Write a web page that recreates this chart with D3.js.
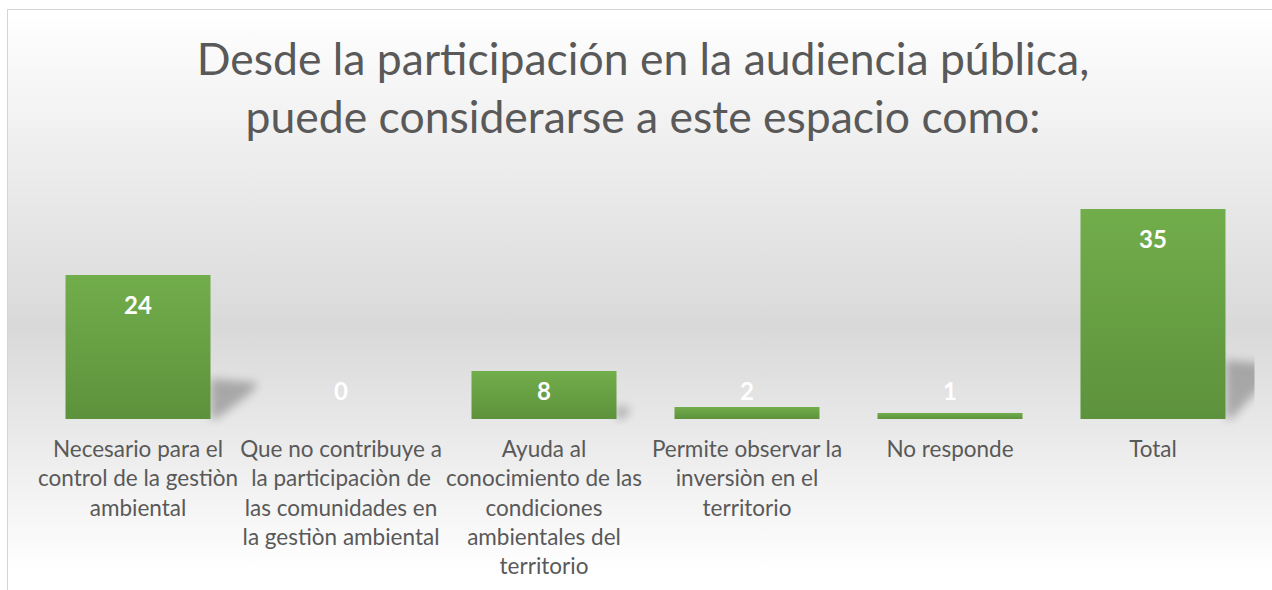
<!DOCTYPE html>
<html>
<head>
<meta charset="utf-8">
<script src="https://cdn.jsdelivr.net/npm/d3@7"></script>
<style>
  html, body { margin: 0; padding: 0; background: #ffffff; }
  svg { display: block; }
</style>
</head>
<body>
<svg id="chart" width="1272" height="590"></svg>
<script>
// data
var categories = ["Necesario", "Que no contribuye", "Ayuda al conocimiento", "Permite observar", "No responde", "Total"];
var values = [24, 0, 8, 2, 1, 35];
var categoryLines = [
    ["Necesario para el", "control de la gestiòn", "ambiental"],
    ["Que no contribuye a", "la participaciòn de", "las comunidades en", "la gestiòn ambiental"],
    ["Ayuda al", "conocimiento de las", "condiciones", "ambientales del", "territorio"],
    ["Permite observar la", "inversiòn en el", "territorio"],
    ["No responde"],
    ["Total"]
];
var titleLines = ["Desde la participación en la audiencia pública,", "puede considerarse a este espacio como:"];

var svg = d3.select("#chart");
var defs = svg.append("defs");

// chart background
var bg = defs.append("linearGradient")
    .attr("id", "bgGrad")
    .attr("gradientUnits", "userSpaceOnUse")
    .attr("x1", 0).attr("y1", 9).attr("x2", 0).attr("y2", 590);
bg.append("stop").attr("offset", "0%").attr("stop-color", "#ffffff");
bg.append("stop").attr("offset", "55%").attr("stop-color", "#d9d9d9");
bg.append("stop").attr("offset", "97%").attr("stop-color", "#ffffff");

var barGrad = defs.append("linearGradient")
    .attr("id", "barGrad")
    .attr("x1", 0).attr("y1", 0).attr("x2", 0).attr("y2", 1);
barGrad.append("stop").attr("offset", "0%").attr("stop-color", "#72ad4b");
barGrad.append("stop").attr("offset", "100%").attr("stop-color", "#5d923c");

defs.append("filter")
    .attr("id", "blur")
    .attr("x", "-50%").attr("y", "-50%").attr("width", "200%").attr("height", "200%")
  .append("feGaussianBlur")
    .attr("stdDeviation", 5);

svg.append("rect")
    .attr("x", 7.5).attr("y", 9.5)
    .attr("width", 1280).attr("height", 600)
    .attr("fill", "url(#bgGrad)")
    .attr("stroke", "#d4d4d4")
    .attr("stroke-width", 1);

// title
svg.append("text")
    .attr("x", 643)
    .attr("text-anchor", "middle")
    .style("font-family", "Lato, 'Open Sans', sans-serif")
    .style("font-size", "44.5px")
    .style("fill", "#595959")
  .selectAll("tspan")
  .data(titleLines)
  .enter()
  .append("tspan")
    .attr("x", 643)
    .attr("y", (d, i) => 75 + i * 58)
    .text(d => d);

// scales
var left = 36.5, right = 1254.5;
var base = 419;

var x = d3.scaleBand()
    .domain(categories)
    .range([left, right])
    .paddingInner(0.2857)
    .paddingOuter(0.1429);

var y = d3.scaleLinear()
    .domain([0, 40])
    .range([base, base - 240]);

var data = categories.map((c, i) => ({cat: c, value: values[i], lines: categoryLines[i]}));

defs.append("clipPath").attr("id", "plotClip")
  .append("rect")
    .attr("x", left).attr("y", 150)
    .attr("width", right - left).attr("height", 300);

// shadows, length grows with bar height
svg.append("g")
    .attr("clip-path", "url(#plotClip)")
  .selectAll("polygon")
  .data(data.filter(d => d.value > 4))
  .enter()
  .append("polygon")
    .attr("points", d => {
        var x1 = x(d.cat) + x.bandwidth();
        var h = base - y(d.value);
        var len = Math.min(48, h * 0.33);
        var ts = base - 0.28 * h;
        return [[x1, base], [x1, ts], [x1 + len, ts + 4], [x1 + len * 0.85, ts + 0.35 * (base - ts)], [x1 + 6, base]]
            .map(p => p.join(",")).join(" ");
    })
    .attr("fill", "#000")
    .attr("opacity", 0.26)
    .attr("filter", "url(#blur)");

// bars
svg.append("g")
  .selectAll("rect")
  .data(data)
  .enter()
  .append("rect")
    .attr("x", d => x(d.cat))
    .attr("y", d => y(d.value))
    .attr("width", x.bandwidth())
    .attr("height", d => base - y(d.value))
    .attr("fill", "url(#barGrad)");

// value labels
svg.append("g")
  .selectAll("text")
  .data(data)
  .enter()
  .append("text")
    .attr("x", d => x(d.cat) + x.bandwidth() / 2)
    .attr("y", d => Math.min(y(d.value) + 39, base - 19))
    .attr("text-anchor", "middle")
    .style("font-family", "Lato, 'Open Sans', sans-serif")
    .style("font-weight", "bold")
    .style("font-size", "24px")
    .style("fill", "#ffffff")
    .text(d => d.value);

// category labels
var gXAxis = svg.append("g")
    .attr("transform", `translate(0, ${base})`)
    .call(d3.axisBottom(x).tickSize(0).tickFormat(""));
gXAxis.select(".domain").remove();

gXAxis.selectAll(".tick text")
    .data(data)
    .attr("y", 0)
    .attr("dy", null)
    .style("font-family", "Lato, 'Open Sans', sans-serif")
    .style("font-size", "22.5px")
    .style("fill", "#595959")
    .each(function(d) {
        d3.select(this).selectAll("tspan")
          .data(d.lines)
          .enter()
          .append("tspan")
            .attr("x", 0)
            .attr("y", (l, i) => 38 + i * 29.3)
            .text(l => l);
    });
</script>
</body>
</html>
